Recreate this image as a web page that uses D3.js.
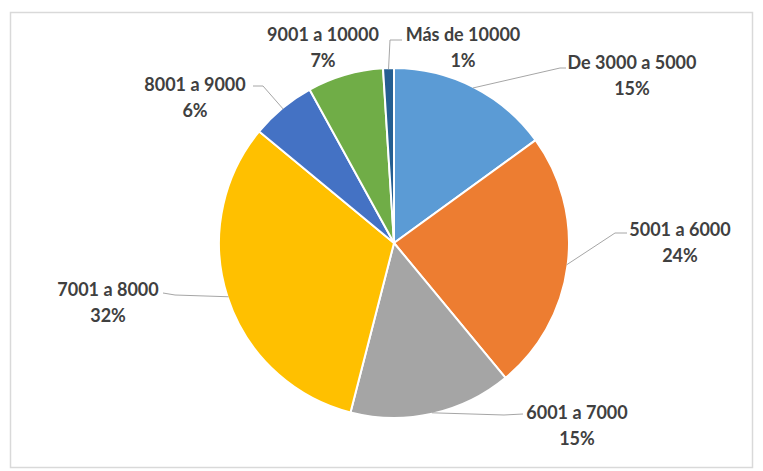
<!DOCTYPE html>
<html>
<head>
<meta charset="utf-8">
<script src="https://cdn.jsdelivr.net/npm/d3@7"></script>
<style>
  body { margin: 0; background: #ffffff; }
</style>
</head>
<body>
<div id="chart"></div>
<script>
// data
var categories = ["De 3000 a 5000", "5001 a 6000", "6001 a 7000", "7001 a 8000", "8001 a 9000", "9001 a 10000", "Más de 10000"];
var percents = [15, 24, 15, 32, 6, 7, 1];
var colors = ["#5b9bd5", "#ed7d31", "#a5a5a5", "#ffc000", "#4472c4", "#70ad47", "#255e91"];

// label layout, offsets from the pie centre (x, y of the name line)
var labelOffsets = [[238, -180], [286, -13], [183, 170], [-286, 47], [-199, -158], [-71, -208], [69, -208]];
// leader line elbow and end, offsets from the pie centre (null = no leader)
var leaderOffsets = [
  [[166, -175], [172, -175]],
  [[221, -10], [233, -10]],
  [[110, 172], [129, 171]],
  [[-219, 52], [-231, 50]],
  [[-131, -157], [-141, -157]],
  null,
  [[-4, -203], [8, -203]]
];

var width = 763;
var height = 471;
var cx = 394;
var cy = 243;
var radius = 175;
var font = "Lato, 'Open Sans', sans-serif";
var color_text = "#404040";
var color_leader = "#a6a6a6";

var svg = d3.select("#chart")
  .append("svg")
  .attr("width", width)
  .attr("height", height);

// chart frame
svg.append("rect")
  .attr("x", 10.5)
  .attr("y", 12.5)
  .attr("width", 742)
  .attr("height", 455)
  .style("fill", "#ffffff")
  .style("stroke", "#d9d9d9")
  .style("stroke-width", 1.5);

var table = categories.map(function(c, i) {
  return { name: c, value: percents[i], color: colors[i], label: labelOffsets[i], leader: leaderOffsets[i] };
});

var pie = d3.pie().sort(null).value(function(d) { return d.value; });
var arc = d3.arc().innerRadius(0).outerRadius(radius);
var arcs = pie(table);

var g = svg.append("g")
  .attr("transform", "translate(" + cx + "," + cy + ")");

g.selectAll("path.slice")
  .data(arcs)
  .enter()
  .append("path")
  .attr("class", "slice")
  .attr("d", arc)
  .style("fill", function(d) { return d.data.color; })
  .style("stroke", "#ffffff")
  .style("stroke-width", 2);

// leader lines
arcs.forEach(function(d) {
  if (!d.data.leader) return;
  var mid = (d.startAngle + d.endAngle) / 2;
  var r0 = radius - 1;
  var start = [Math.sin(mid) * r0, -Math.cos(mid) * r0];
  var pts = [start, d.data.leader[0], d.data.leader[1]];
  g.append("path")
    .attr("d", d3.line()(pts))
    .style("fill", "none")
    .style("stroke", color_leader)
    .style("stroke-width", 1);
});

// labels
arcs.forEach(function(d) {
  var t = g.append("text")
    .attr("x", d.data.label[0])
    .attr("y", d.data.label[1])
    .style("text-anchor", "middle")
    .style("font-family", font)
    .style("font-weight", "bold")
    .style("font-size", "18px")
    .style("fill", color_text);
  t.append("tspan")
    .attr("x", d.data.label[0])
    .attr("dy", "0.35em")
    .text(d.data.name);
  t.append("tspan")
    .attr("x", d.data.label[0])
    .attr("dy", 26)
    .text(d.data.value + "%");
});
</script>
</body>
</html>
